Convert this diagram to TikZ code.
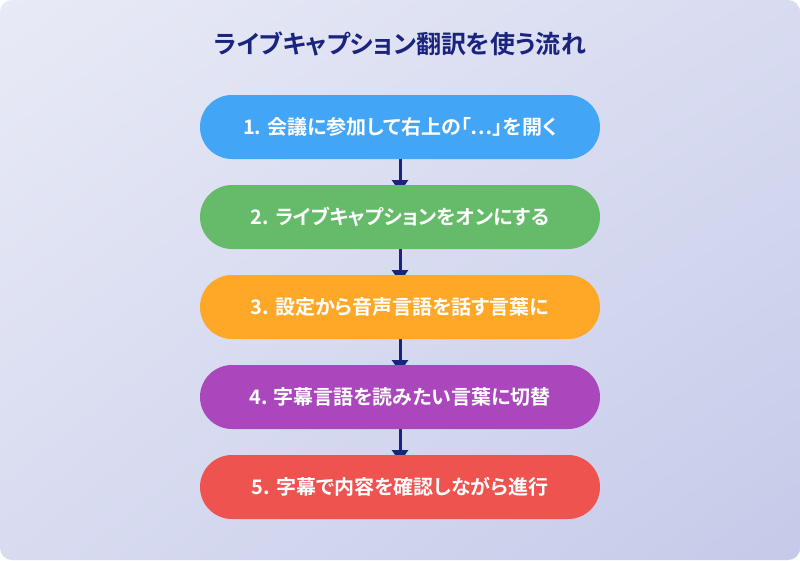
\documentclass[tikz,border=0pt]{standalone}
\usepackage{fontspec}
\setmainfont{Noto Sans CJK JP}[BoldFont={* Bold}, RawFeature=+palt]
\usetikzlibrary{arrows.meta,shadings}
\definecolor{bgA}{HTML}{E8EAF6}
\definecolor{bgB}{HTML}{C5CAE9}
\definecolor{navy}{HTML}{1A237E}
\definecolor{cBlue}{HTML}{42A5F5}
\definecolor{cGreen}{HTML}{66BB6A}
\definecolor{cOrange}{HTML}{FFA726}
\definecolor{cPurple}{HTML}{AB47BC}
\definecolor{cRed}{HTML}{EF5350}
\colorlet{bgM}{bgA!55!bgB}
\tikzset{
  stepbox/.style={rounded corners=32pt, minimum width=400pt, minimum height=64pt,
    inner sep=0pt, text=white, font=\fontsize{20pt}{24pt}\selectfont\bfseries},
  flowarrow/.style={draw=navy, line width=3pt, -{Triangle[length=12pt,width=16pt]}}
}
\begin{document}
\begin{tikzpicture}[x=1pt,y=-1pt]
\useasboundingbox (0,0) rectangle (800,560);
\fill[white] (0,0) rectangle (800,560);
\shade[rounded corners=12pt, upper left=bgA, lower right=bgB,
  upper right=bgM, lower left=bgM] (0,0) rectangle (800,560);
\node[text=navy, font=\fontsize{25pt}{30pt}\selectfont\bfseries] (title) at (400,44) {ライブキャプション翻訳を使う流れ};
\coordinate (c1) at (400,127);
\coordinate (c2) at (400,217);
\coordinate (c3) at (400,307);
\coordinate (c4) at (400,397);
\coordinate (c5) at (400,487);
\foreach \a/\b in {1/2,2/3,3/4,4/5}{
  \draw[flowarrow] ([yshift=-31pt]c\a) -- ([yshift=25pt]c\b);
}
\node[stepbox, fill=cBlue] (s1) at (c1) {1. 会議に参加して右上の「…」を開く};
\node[stepbox, fill=cGreen] (s2) at (c2) {2. ライブキャプションをオンにする};
\node[stepbox, fill=cOrange] (s3) at (c3) {3. 設定から音声言語を話す言葉に};
\node[stepbox, fill=cPurple] (s4) at (c4) {4. 字幕言語を読みたい言葉に切替};
\node[stepbox, fill=cRed] (s5) at (c5) {5. 字幕で内容を確認しながら進行};
\end{tikzpicture}
\end{document}
